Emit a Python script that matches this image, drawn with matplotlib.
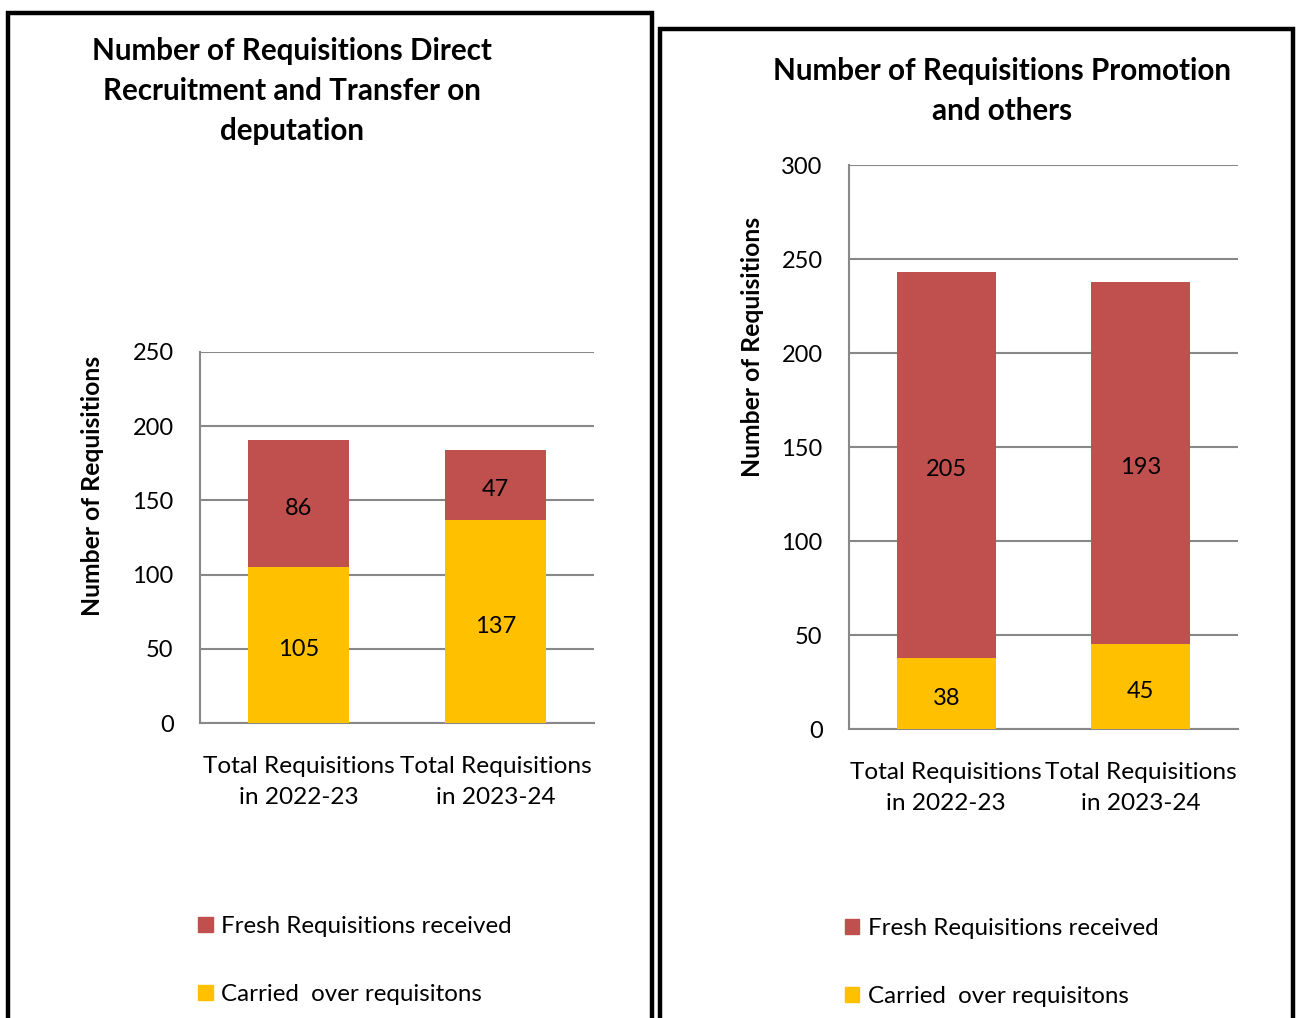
import matplotlib
matplotlib.use("Agg")
import matplotlib.pyplot as plt
from matplotlib.patches import Rectangle, Patch

plt.rcParams['font.family'] = ['Lato', 'DejaVu Sans']

W, H = 1296, 1018

categories = ["Total Requisitions\nin 2022-23", "Total Requisitions\nin 2023-24"]
series_names = ["Fresh Requisitions received", "Carried  over requisitons"]

# left chart: direct recruitment / transfer on deputation
direct_carried = [105, 137]
direct_fresh = [86, 47]

# right chart: promotion and others
promo_carried = [38, 45]
promo_fresh = [205, 193]

red = "#C0504D"
yellow = "#FFC000"
grid = "#888888"


def px(x0, y0, x1, y1):
    return [x0 / W, 1 - y1 / H, (x1 - x0) / W, (y1 - y0) / H]


fig = plt.figure(figsize=(W / 100, H / 100), dpi=100)

# panel borders
fig.patches.append(Rectangle((8 / W, -0.05), (652 - 8) / W, 1.05 - 13 / H,
                             transform=fig.transFigure, fill=False,
                             ec="black", lw=3.2))
fig.patches.append(Rectangle((660 / W, -0.05), (1293 - 660) / W, 1.05 - 29 / H,
                             transform=fig.transFigure, fill=False,
                             ec="black", lw=3.2))


def draw(rect, carried, fresh, ymax, title, title_xy, ylab_xy, leg_xy):
    ax = fig.add_axes(px(*rect))
    x = range(len(categories))
    c1 = ax.bar(x, carried, width=0.51, color=yellow, zorder=3)
    c2 = ax.bar(x, fresh, bottom=carried, width=0.51, color=red, zorder=3)
    for t in ax.bar_label(c1, label_type="center", fontsize=17) + \
            ax.bar_label(c2, label_type="center", fontsize=17):
        t.xyann = (0, -3.5)  # excel puts them a touch lower
    ax.set_xlim(-0.5, 1.5)
    ax.set_ylim(0, ymax)
    ax.set_yticks(range(0, ymax + 1, 50))
    ax.set_xticks(list(x))
    ax.set_xticklabels(categories, linespacing=1.55)
    ax.tick_params(axis="y", length=0, labelsize=17, pad=19)
    ax.tick_params(axis="x", length=0, labelsize=17.6, pad=24)
    ax.yaxis.grid(True, color=grid, lw=1.5, zorder=0)
    for s in ["top", "right"]:
        ax.spines[s].set_visible(False)
    for s in ["left", "bottom"]:
        ax.spines[s].set_color(grid)
        ax.spines[s].set_linewidth(1.5)
    ax.set_ylabel("Number of Requisitions", fontsize=17.8, fontweight="bold")
    ax.yaxis.set_label_coords(*ylab_xy)
    fig.text(title_xy[0] / W, 1 - title_xy[1] / H, title, ha="center",
             va="top", fontsize=21.3, fontweight="bold", linespacing=1.52)
    handles = [Patch(color=red), Patch(color=yellow)]
    ax.legend(handles, series_names, loc="upper left",
              bbox_to_anchor=(leg_xy[0] / W, 1 - leg_xy[1] / H),
              bbox_transform=fig.transFigure, frameon=False, fontsize=17.4,
              handlelength=0.6, handleheight=0.6, handletextpad=0.35,
              labelspacing=1.95, borderpad=0, borderaxespad=0)
    return ax


draw((200, 352, 594, 723), direct_carried, direct_fresh, 250,
     "Number of Requisitions Direct\nRecruitment and Transfer on\ndeputation",
     (292, 37), (-0.244, 0.64), (198, 916))
draw((849, 165, 1238, 729), promo_carried, promo_fresh, 300,
     "Number of Requisitions Promotion\nand others",
     (1002, 57), (-0.219, 0.677), (845, 918))

fig.savefig("out.png", dpi=100)
